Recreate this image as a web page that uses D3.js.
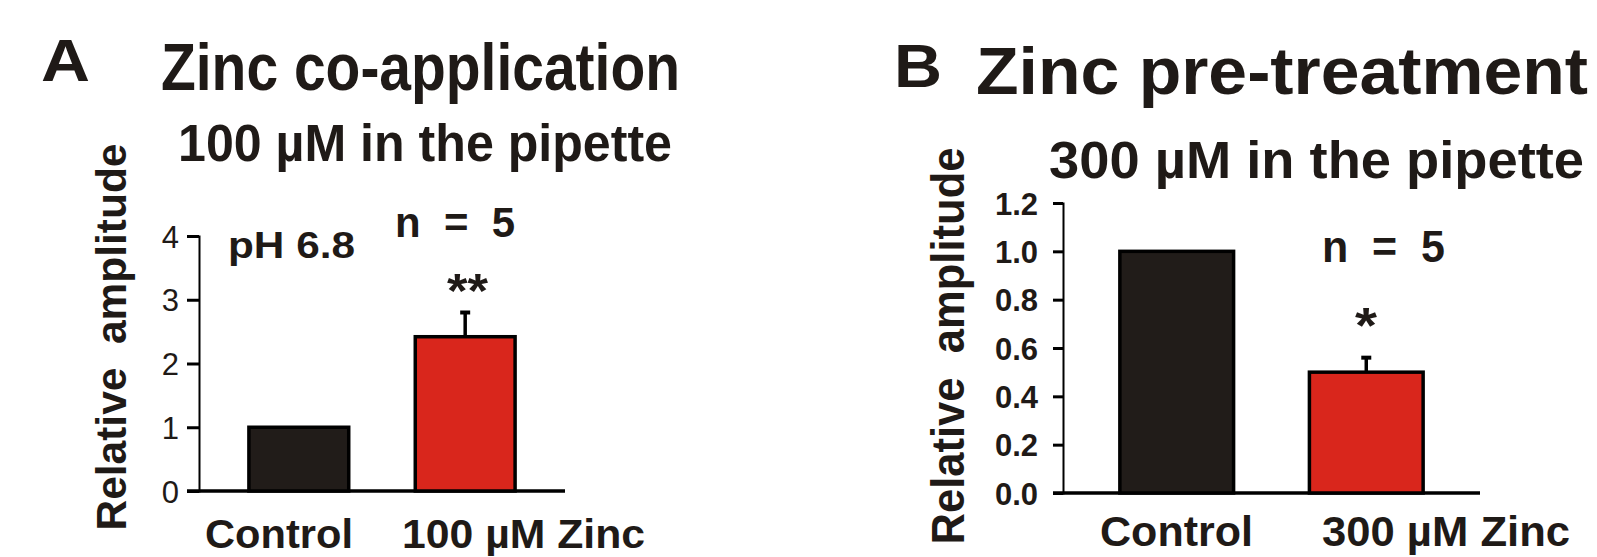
<!DOCTYPE html>
<html>
<head>
<meta charset="utf-8">
<script src="https://cdn.jsdelivr.net/npm/d3@7"></script>
<style>
  body { margin: 0; background: #fff; }
  text { font-family: "Liberation Sans", Arial, sans-serif; fill: #1f1a17; white-space: pre; }
</style>
</head>
<body>
<div id="chart"></div>
<script>
// data
var categoriesA = ["Control", "100 µM Zinc"];
var valuesA = [1.0, 2.42];
var errorsA = [0, 0.38];
var ticksA = [0, 1, 2, 3, 4];

var categoriesB = ["Control", "300 µM Zinc"];
var valuesB = [1.0, 0.50];
var errorsB = [0, 0.06];
var ticksB = [0, 0.2, 0.4, 0.6, 0.8, 1.0, 1.2];

var barColors = ["#211c19", "#d9261c"];

var svg = d3.select("#chart").append("svg")
  .attr("width", 1597)
  .attr("height", 557);

// little helper for the big bold labels
function label(g, txt, x, y, size, len, bold) {
  var t = g.append("text")
    .attr("x", x)
    .attr("y", y)
    .style("font-size", size + "px")
    .style("font-weight", bold === false ? "normal" : "bold")
    .text(txt);
  if (len) t.attr("textLength", len).attr("lengthAdjust", "spacingAndGlyphs");
  return t;
}

function drawPanel(p) {
  var g = svg.append("g");

  var x = d3.scaleBand()
    .domain(p.categories)
    .range([p.left, p.right])
    .paddingInner(0.4)
    .paddingOuter(0.3);

  var y = d3.scaleLinear()
    .domain([0, p.ymax])
    .range([p.bottom, p.top]);

  // y axis
  var yAxis = d3.axisLeft(y)
    .tickValues(p.ticks)
    .tickSize(p.tickLen)
    .tickPadding(p.tickPad)
    .tickFormat(p.fmt);

  var ya = g.append("g")
    .attr("transform", "translate(" + p.left + ",0)")
    .call(yAxis);
  ya.select(".domain").attr("stroke", "#000").attr("stroke-width", 2);
  ya.selectAll(".tick line").attr("stroke", "#000").attr("stroke-width", 3);
  ya.selectAll(".tick text")
    .style("font-size", p.tickFont + "px")
    .style("font-weight", p.tickBold ? "bold" : "normal")
    .style("fill", "#1f1a17")
    .attr("dy", "0.36em");

  // x axis baseline
  g.append("line")
    .attr("x1", p.left - p.tickLen)
    .attr("x2", x.range()[1])
    .attr("y1", y(0))
    .attr("y2", y(0))
    .attr("stroke", "#000")
    .attr("stroke-width", 3.5);

  // bars
  g.selectAll("rect.bar")
    .data(p.values)
    .enter()
    .append("rect")
    .attr("class", "bar")
    .attr("x", function(d, i) { return x(p.categories[i]); })
    .attr("width", x.bandwidth())
    .attr("y", function(d) { return y(d); })
    .attr("height", function(d) { return y(0) - y(d); })
    .attr("fill", function(d, i) { return barColors[i]; })
    .attr("stroke", "#000")
    .attr("stroke-width", 3.5);

  // error bars (upper half only)
  p.values.forEach(function(v, i) {
    if (!p.errors[i]) return;
    var cx = x(p.categories[i]) + x.bandwidth() / 2;
    g.append("line")
      .attr("x1", cx).attr("x2", cx)
      .attr("y1", y(v)).attr("y2", y(v + p.errors[i]))
      .attr("stroke", "#000").attr("stroke-width", 3.5);
    g.append("line")
      .attr("x1", cx - 5).attr("x2", cx + 5)
      .attr("y1", y(v + p.errors[i])).attr("y2", y(v + p.errors[i]))
      .attr("stroke", "#000").attr("stroke-width", 4);
  });

  // category labels
  p.categories.forEach(function(c, i) {
    label(g, c, p.catX[i], p.catY, p.catFont, p.catLen[i]);
  });

  // rotated y label
  g.append("text")
    .attr("transform", "translate(" + p.ylabX + "," + p.ylabY + ") rotate(-90)")
    .attr("text-anchor", "middle")
    .attr("textLength", p.ylabLen)
    .attr("lengthAdjust", "spacingAndGlyphs")
    .style("font-size", p.ylabFont + "px")
    .style("font-weight", "bold")
    .text("Relative  amplitude");

  p.texts.forEach(function(t) {
    label(g, t[0], t[1], t[2], t[3], t[4]);
  });
}

drawPanel({
  categories: categoriesA, values: valuesA, errors: errorsA, ticks: ticksA,
  ymax: 4, left: 199, right: 565, top: 236, bottom: 491,
  tickLen: 12, tickPad: 8, tickFont: 31, tickBold: false,
  fmt: d3.format("d"),
  catX: [205, 402], catY: 548, catFont: 41, catLen: [148, 243],
  ylabX: 126, ylabY: 337, ylabFont: 43, ylabLen: 387,
  texts: [
    ["A", 41, 81, 60, 49],
    ["Zinc co-application", 161, 90, 66, 519],
    ["100 µM in the pipette", 178, 161, 51, 494],
    ["pH 6.8", 228, 258, 37, 127],
    ["n  =  5", 395, 237, 42, 120],
    ["**", 447, 307, 48, 41]
  ]
});

drawPanel({
  categories: categoriesB, values: valuesB, errors: errorsB, ticks: ticksB,
  ymax: 1.2, left: 1063, right: 1480, top: 203, bottom: 493,
  tickLen: 10, tickPad: 15, tickFont: 31, tickBold: true,
  fmt: d3.format(".1f"),
  catX: [1100, 1322], catY: 546, catFont: 42, catLen: [153, 248],
  ylabX: 964, ylabY: 346, ylabFont: 47, ylabLen: 397,
  texts: [
    ["B", 894, 87, 61, 48],
    ["Zinc pre-treatment", 976, 94, 66, 612],
    ["300 µM in the pipette", 1049, 178, 51, 535],
    ["n  =  5", 1322, 262, 44, 123],
    ["*", 1355, 343, 50, 22]
  ]
});
</script>
</body>
</html>
